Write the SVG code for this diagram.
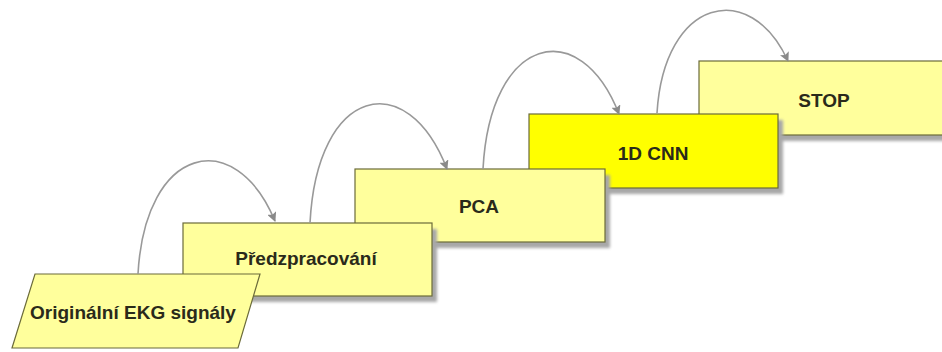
<svg xmlns="http://www.w3.org/2000/svg" width="942" height="352" viewBox="0 0 942 352">
<style>
.box{fill:#ffff9c;stroke:#6b6b3a;stroke-width:1.2}
.hot{fill:#ffff00}
.sh{fill:#a8a8a8;filter:url(#blur)}
.lbl{font-family:"Liberation Sans",Arial,sans-serif;font-size:19px;font-weight:bold;fill:#2a2a1a;text-anchor:middle}
.arr{fill:none;stroke:#999999;stroke-width:1.6;marker-end:url(#ah)}
</style>
<defs>
<filter id="blur" x="-10%" y="-10%" width="120%" height="130%"><feGaussianBlur stdDeviation="1.5"/></filter>
<marker id="ah" viewBox="0 0 10 10" refX="9" refY="5" markerWidth="6" markerHeight="6" orient="auto" markerUnits="strokeWidth">
<path d="M0,0 L10,5 L0,10 L2,5 z" fill="#8a8a8a"/>
</marker>
</defs>
<rect width="942" height="352" fill="#ffffff"/>
<g id="stop">
<rect class="sh" x="704" y="67" width="250" height="74"/>
<rect class="box" x="699" y="61" width="250" height="74"/>
<text class="lbl" x="824" y="107">STOP</text>
</g>
<g id="cnn">
<rect class="sh" x="534" y="120" width="249" height="74"/>
<rect class="box hot" x="529" y="114" width="249" height="74"/>
<text class="lbl" x="653" y="160">1D CNN</text>
</g>
<g id="pca">
<rect class="sh" x="360" y="175" width="250" height="73"/>
<rect class="box" x="355" y="169" width="250" height="73"/>
<text class="lbl" x="479" y="213">PCA</text>
</g>
<g id="pred">
<rect class="sh" x="188" y="229" width="249" height="73"/>
<rect class="box" x="183" y="223" width="249" height="73"/>
<text class="lbl" x="306" y="265">Předzpracování</text>
</g>
<g id="orig">
<polygon class="box" points="35,274 260,274 238,348 12,348"/>
<text class="lbl" x="133" y="319">Originální EKG signály</text>
</g>
<g id="connectors">
<path class="arr" d="M138,274 C145,145 235,125 275,221"/>
<path class="arr" d="M310,223 C317,86 407,66 447,169"/>
<path class="arr" d="M483,169 C490,35 580,14 619,114"/>
<path class="arr" d="M657,113 C664,-2 750,-22 788,61"/>
</g>
</svg>
